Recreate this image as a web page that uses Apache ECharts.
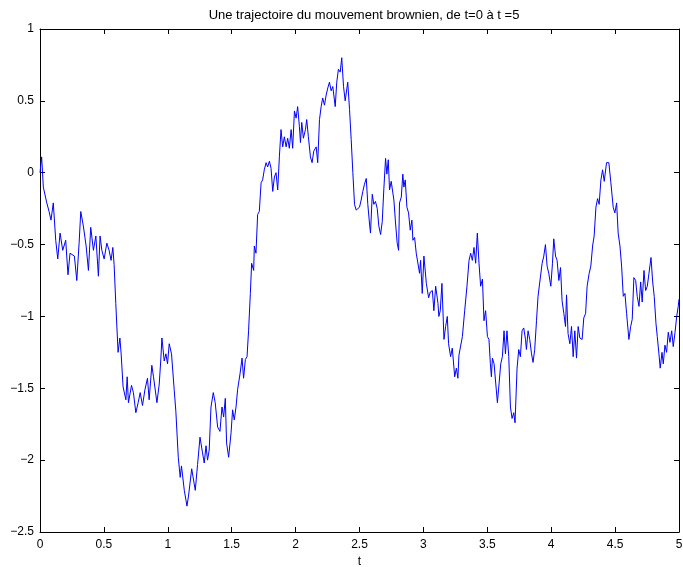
<!DOCTYPE html>
<html><head><meta charset="utf-8">
<script src="https://cdn.jsdelivr.net/npm/echarts@6/dist/echarts.min.js"></script>
<style>html,body{margin:0;padding:0;background:#fff}#c{width:683px;height:567px}</style>
</head><body><div id="c"></div>
<script>
const tValues = [0,0.013,0.026,0.053,0.071,0.086,0.104,0.123,0.139,0.157,0.178,0.201,0.219,0.235,0.269,0.288,0.306,0.319,0.339,0.361,0.379,0.397,0.418,0.437,0.457,0.470,0.484,0.502,0.523,0.541,0.556,0.570,0.580,0.593,0.611,0.625,0.635,0.650,0.672,0.682,0.692,0.716,0.731,0.750,0.768,0.784,0.802,0.821,0.841,0.854,0.875,0.888,0.915,0.933,0.946,0.954,0.972,0.985,0.998,1.011,1.029,1.050,1.063,1.082,1.097,1.107,1.129,1.150,1.162,1.187,1.215,1.233,1.252,1.272,1.285,1.299,1.311,1.324,1.338,1.356,1.371,1.390,1.408,1.424,1.437,1.450,1.460,1.476,1.495,1.507,1.520,1.534,1.546,1.565,1.581,1.593,1.607,1.620,1.632,1.646,1.656,1.672,1.677,1.690,1.703,1.716,1.730,1.742,1.755,1.769,1.781,1.795,1.808,1.821,1.834,1.847,1.860,1.873,1.886,1.899,1.912,1.926,1.938,1.951,1.965,1.977,1.991,2.004,2.016,2.030,2.038,2.048,2.061,2.077,2.087,2.100,2.116,2.129,2.142,2.161,2.173,2.187,2.200,2.212,2.226,2.239,2.252,2.265,2.278,2.291,2.310,2.322,2.335,2.349,2.361,2.375,2.388,2.400,2.408,2.422,2.435,2.448,2.461,2.474,2.487,2.500,2.513,2.526,2.539,2.553,2.565,2.578,2.586,2.600,2.612,2.625,2.639,2.651,2.665,2.678,2.690,2.704,2.714,2.725,2.735,2.748,2.761,2.769,2.782,2.795,2.806,2.813,2.827,2.839,2.847,2.858,2.871,2.884,2.897,2.910,2.918,2.931,2.944,2.957,2.970,2.978,2.991,3.004,3.023,3.041,3.054,3.070,3.082,3.096,3.114,3.121,3.132,3.145,3.161,3.174,3.187,3.197,3.213,3.226,3.245,3.258,3.270,3.278,3.289,3.305,3.323,3.341,3.357,3.370,3.383,3.396,3.409,3.422,3.435,3.448,3.462,3.474,3.487,3.501,3.513,3.524,3.532,3.540,3.553,3.566,3.579,3.592,3.605,3.618,3.631,3.642,3.654,3.668,3.681,3.694,3.707,3.717,3.733,3.746,3.759,3.772,3.785,3.799,3.806,3.819,3.832,3.846,3.858,3.871,3.885,3.897,3.911,3.929,3.942,3.955,3.968,3.981,3.997,4.010,4.020,4.034,4.046,4.060,4.073,4.085,4.099,4.112,4.120,4.132,4.146,4.159,4.172,4.185,4.198,4.211,4.224,4.242,4.255,4.269,4.281,4.297,4.310,4.324,4.336,4.350,4.363,4.375,4.389,4.402,4.415,4.433,4.451,4.467,4.485,4.498,4.512,4.524,4.538,4.551,4.564,4.577,4.590,4.608,4.622,4.634,4.647,4.661,4.673,4.687,4.700,4.712,4.726,4.739,4.752,4.765,4.781,4.794,4.806,4.820,4.830,4.843,4.853,4.867,4.877,4.890,4.903,4.916,4.929,4.943,4.955,4.969,4.982,4.994,5.0];
const wValues = [0,0.11,-0.1,-0.21,-0.27,-0.33,-0.21,-0.47,-0.6,-0.42,-0.54,-0.47,-0.71,-0.56,-0.58,-0.75,-0.49,-0.27,-0.37,-0.51,-0.68,-0.38,-0.54,-0.44,-0.72,-0.44,-0.54,-0.6,-0.49,-0.54,-0.61,-0.52,-0.64,-0.91,-1.25,-1.15,-1.26,-1.49,-1.58,-1.42,-1.6,-1.48,-1.53,-1.67,-1.6,-1.53,-1.62,-1.51,-1.43,-1.58,-1.34,-1.42,-1.6,-1.47,-1.29,-1.15,-1.31,-1.26,-1.33,-1.19,-1.26,-1.51,-1.66,-1.98,-2.12,-2.04,-2.21,-2.32,-2.25,-2.06,-2.21,-2.03,-1.84,-1.95,-2.02,-1.9,-2.0,-1.93,-1.63,-1.53,-1.6,-1.77,-1.8,-1.63,-1.7,-1.57,-1.88,-1.98,-1.81,-1.65,-1.72,-1.63,-1.51,-1.4,-1.29,-1.43,-1.3,-1.28,-1.1,-0.84,-0.63,-0.68,-0.51,-0.56,-0.29,-0.27,-0.07,-0.05,0.02,0.07,0.04,0.08,0.03,-0.13,-0.03,0.0,-0.12,0.11,0.3,0.18,0.25,0.18,0.24,0.17,0.3,0.17,0.43,0.38,0.46,0.32,0.21,0.35,0.24,0.3,0.37,0.25,0.11,0.07,0.15,0.18,0.07,0.37,0.46,0.52,0.47,0.54,0.59,0.63,0.57,0.6,0.46,0.63,0.72,0.7,0.8,0.6,0.5,0.51,0.63,0.44,0.23,0.0,-0.22,-0.26,-0.27,-0.24,-0.19,-0.13,-0.08,-0.04,-0.22,-0.35,-0.42,-0.15,-0.22,-0.2,-0.25,-0.37,-0.43,-0.34,-0.12,0.1,-0.01,0.09,-0.12,-0.06,-0.05,-0.19,-0.35,-0.49,-0.54,-0.21,-0.17,-0.01,-0.1,-0.05,-0.24,-0.28,-0.4,-0.33,-0.47,-0.45,-0.56,-0.55,-0.7,-0.61,-0.84,-0.58,-0.77,-0.87,-0.83,-0.82,-0.96,-0.79,-0.91,-1.0,-0.96,-0.77,-1.16,-1.07,-1.0,-1.19,-1.28,-1.22,-1.42,-1.36,-1.43,-1.27,-1.28,-1.14,-0.96,-0.79,-0.61,-0.56,-0.61,-0.52,-0.63,-0.42,-0.63,-0.79,-0.74,-1.03,-0.96,-1.14,-1.16,-1.33,-1.42,-1.29,-1.33,-1.32,-1.6,-1.47,-1.33,-1.28,-1.1,-1.26,-1.1,-1.28,-1.63,-1.71,-1.67,-1.74,-1.36,-1.23,-1.28,-1.1,-1.08,-1.16,-1.23,-1.1,-1.16,-1.26,-1.32,-1.23,-1.03,-0.86,-0.85,-0.63,-0.58,-0.5,-0.65,-0.7,-0.79,-0.63,-0.46,-0.58,-0.61,-0.75,-0.66,-0.89,-0.98,-1.07,-0.85,-1.12,-1.19,-1.07,-1.28,-1.1,-1.29,-1.07,-1.15,-1.16,-1.01,-0.98,-0.79,-0.7,-0.65,-0.51,-0.44,-0.24,-0.18,-0.22,-0.05,0.02,-0.06,0.07,0.07,-0.07,-0.24,-0.28,-0.21,-0.42,-0.51,-0.65,-0.86,-0.84,-0.98,-1.16,-1.07,-1.02,-0.73,-0.75,-0.86,-0.93,-0.76,-0.9,-0.68,-0.82,-0.79,-0.7,-0.59,-0.76,-0.86,-1.05,-1.14,-1.26,-1.36,-1.25,-1.33,-1.2,-1.25,-1.11,-1.18,-1.1,-1.21,-1.11,-1.0,-0.93,-0.88];
const xTicks = [0,0.5,1,1.5,2,2.5,3,3.5,4,4.5,5];
const yTicks = [-2.5,-2,-1.5,-1,-0.5,0,0.5,1];
const titleText = 'Une trajectoire du mouvement brownien, de t=0 à t =5';
const xName = 't';

const font = 'Liberation Sans, Arial, sans-serif';
const fmt = v => String(v).replace('-', '\u2212');
const chart = echarts.init(document.getElementById('c'), null, {renderer: 'canvas'});
const baseAxis = {
  axisLine: {show: true, onZero: false, lineStyle: {color: '#000', width: 1}},
  axisTick: {show: true, inside: true, length: 5, lineStyle: {color: '#000'}},
  splitLine: {show: false}
};
chart.setOption({
  animation: false,
  backgroundColor: '#fff',
  title: {text: titleText, left: 359, top: 4, textAlign: 'center',
    textStyle: {fontFamily: font, fontSize: 13, fontWeight: 'normal', color: '#000'}},
  grid: {left: 40, right: 4, top: 29, bottom: 35, containLabel: false, outerBoundsMode: 'none'},
  xAxis: [
    Object.assign({}, baseAxis, {type: 'value', min: 0, max: 5, interval: 0.5, position: 'bottom',
      name: xName, nameLocation: 'middle', nameGap: 23,
      nameTextStyle: {fontFamily: font, fontSize: 12, color: '#000'},
      axisLabel: {fontFamily: font, fontSize: 12, color: '#000', margin: 7, formatter: fmt}}),
    Object.assign({}, baseAxis, {type: 'value', min: 0, max: 5, interval: 0.5, position: 'top',
      axisLabel: {show: false}})
  ],
  yAxis: [
    Object.assign({}, baseAxis, {type: 'value', min: -2.5, max: 1, interval: 0.5, position: 'left',
      axisLabel: {fontFamily: font, fontSize: 12, color: '#000', margin: 6, formatter: fmt}}),
    Object.assign({}, baseAxis, {type: 'value', min: -2.5, max: 1, interval: 0.5, position: 'right',
      axisLabel: {show: false}})
  ],
  series: [{
    type: 'line', xAxisIndex: 0, yAxisIndex: 0,
    data: tValues.map((t, i) => [t, wValues[i]]),
    showSymbol: false, symbol: 'none',
    lineStyle: {color: '#0000ff', width: 1},
    clip: true
  }]
});
</script></body></html>
